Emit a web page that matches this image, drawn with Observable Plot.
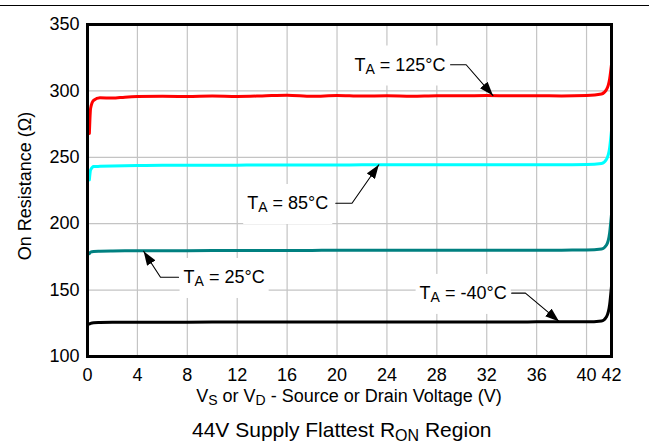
<!DOCTYPE html>
<html>
<head>
<meta charset="utf-8">
<script src="https://cdn.jsdelivr.net/npm/d3@7"></script>
<script src="https://cdn.jsdelivr.net/npm/@observablehq/plot@0.6"></script>
<style>
  html, body { margin: 0; padding: 0; background: #fff; }
  #chart { position: relative; width: 649px; height: 444px; font-family: "Liberation Sans", Arial, sans-serif; }
  #rule { position: absolute; left: 0; top: 5px; width: 649px; border-top: 1.5px solid #000; }
  #chart svg { position: absolute; left: 0; top: 0; }
</style>
</head>
<body>
<div id="chart"><div id="rule"></div></div>
<script>
// Source/drain voltage samples (V)
const voltage = [0.15, 0.25, 0.5, 1, 2, 3, 4, 6, 8, 10, 12, 14, 16, 18, 20, 22, 24, 26, 28, 30, 32, 34, 36, 38, 40, 41.2, 41.6, 41.85, 42];

// On resistance (Ω) at each temperature
const ron125 = [268, 287, 293, 294.8, 294.6, 295.3, 295.7, 295.9, 295.8, 296.1, 295.8, 296.2, 296.8, 295.9, 296.6, 296.1, 296.3, 296.0, 296.4, 296.3, 296.5, 296.3, 296.4, 296.2, 296.5, 297.6, 301, 309, 320];
const ron85  = [233, 240.5, 243.0, 243.2, 243.5, 243.7, 243.8, 244.0, 244.0, 244.1, 244.1, 244.2, 244.2, 244.2, 244.2, 244.3, 244.3, 244.3, 244.3, 244.3, 244.4, 244.4, 244.4, 244.4, 244.5, 245.3, 248.5, 257, 270];
const ron25  = [177.5, 178.6, 179.1, 179.3, 179.5, 179.6, 179.6, 179.7, 179.7, 179.8, 179.8, 179.9, 179.9, 179.9, 180.0, 180.0, 180.0, 180.0, 180.0, 180.0, 180.0, 180.1, 180.1, 180.1, 180.2, 181, 184, 193, 207];
const ronM40 = [124.5, 125, 125.5, 125.6, 125.7, 125.7, 125.8, 125.8, 125.8, 125.9, 125.9, 125.9, 125.9, 126.0, 126.0, 126.0, 126.0, 126.0, 126.0, 126.0, 126.0, 126.0, 126.1, 126.1, 126.1, 126.8, 130, 139, 153];

const seriesNames  = ["125", "85", "25", "-40"];
const seriesValues = [ron125, ron85, ron25, ronM40];
const seriesColors = ["#ff0000", "#00ffff", "#008080", "#000000"];

// Axis ticks
const xTicks = [0, 4, 8, 12, 16, 20, 24, 28, 32, 36, 40, 42];
const xGrid  = [4, 8, 12, 16, 20, 24, 28, 32, 36, 40];
const yTicks = [100, 150, 200, 250, 300, 350];
const yGrid  = [150, 200, 250, 300];

// Temperature callouts: label anchor and leader polyline ending at the curve
const annoLabels = ["TA = 125°C", "TA = 85°C", "TA = 25°C", "TA = -40°C"];
const annoX      = [28.7, 19.3, 7.7, 33.6];
const annoY      = [319.7, 215.4, 159.7, 147.7];
const annoAnchor = ["end", "end", "start", "end"];
const leaderX = [[29.1, 30.35, 32.5], [19.9, 21.2, 23.35], [7.3, 5.85, 4.5], [34.0, 35.1, 37.8]];
const leaderY = [[319.7, 319.7, 296.5], [215.4, 215.4, 244.4], [159.7, 159.7, 179.2], [147.7, 147.7, 126.4]];

// Tidy tables built from the arrays
const curves = seriesNames.flatMap((name, s) =>
  voltage.map((v, i) => ({series: name, v, r: seriesValues[s][i]})));
const leaders = leaderX.flatMap((xs, k) => xs.map((x, j) => ({id: k, x, y: leaderY[k][j]})));
const annos = annoLabels.map((t, k) => ({text: t, x: annoX[k], y: annoY[k], anchor: annoAnchor[k]}));

const annoText = anchor => Plot.text(annos.filter(d => d.anchor === anchor), {
  x: "x", y: "y", text: "text",
  textAnchor: anchor,
  fontSize: 18, fill: "#000",
  className: "anno"
});

const plot = Plot.plot({
  width: 649,
  height: 444,
  marginLeft: 87,
  marginRight: 38,
  marginTop: 24,
  marginBottom: 88,
  style: {fontFamily: "'Liberation Sans', Arial, sans-serif", fontSize: "18px", color: "#000", background: "transparent"},
  x: {domain: [0, 42]},
  y: {domain: [100, 350]},
  color: {domain: seriesNames, range: seriesColors},
  marks: [
    Plot.gridX(xGrid, {stroke: "#c4c4c4", strokeOpacity: 1, strokeWidth: 1.2}),
    Plot.gridY(yGrid, {stroke: "#c4c4c4", strokeOpacity: 1, strokeWidth: 1.2}),
    Plot.axisX(xTicks, {tickSize: 0, tickPadding: 12, fontSize: 18, label: null}),
    Plot.axisY(yTicks, {tickSize: 0, tickPadding: 8, fontSize: 18, label: null}),
    annoText("end"),
    annoText("start"),
    Plot.line(curves, {x: "v", y: "r", z: "series", stroke: "series", strokeWidth: 3, curve: "monotone-x"}),
    Plot.line(leaders, {x: "x", y: "y", z: "id", stroke: "#000", strokeWidth: 1.1, className: "leader"}),
    Plot.frame({stroke: "#000", strokeWidth: 3})
  ]
});

document.getElementById("chart").appendChild(plot);

const svg = d3.select(plot);
const NS = "http://www.w3.org/2000/svg";

// Filled arrowheads on the callout leaders
const defs = svg.insert("defs", ":first-child");
defs.append("marker")
  .attr("id", "tipHead")
  .attr("viewBox", "0 0 14 10")
  .attr("refX", 14).attr("refY", 5)
  .attr("markerUnits", "userSpaceOnUse")
  .attr("markerWidth", 14).attr("markerHeight", 10)
  .attr("orient", "auto")
  .append("path").attr("d", "M0,0L14,5L0,10Z").attr("fill", "#000");
svg.selectAll(".leader path").attr("marker-end", "url(#tipHead)");

// Write text as pieces, shifting subscripts below the baseline
function writeParts(el, parts, subSize, shift) {
  el.textContent = "";
  let down = false;
  for (const [str, sub] of parts) {
    const t = document.createElementNS(NS, "tspan");
    t.textContent = str;
    if (sub) {
      t.setAttribute("font-size", subSize);
      if (!down) { t.setAttribute("dy", shift); down = true; }
    } else if (down) {
      t.setAttribute("dy", -shift); down = false;
    }
    el.appendChild(t);
  }
}

// Callout labels: subscript A, with a white box behind each
svg.selectAll(".anno text").each(function() {
  const s = this.textContent;
  writeParts(this, [[s.slice(0, 1), false], [s.slice(1, 2), true], [s.slice(2), false]], 14, 3);
  const b = this.getBBox();
  const r = document.createElementNS(NS, "rect");
  const tf = this.getAttribute("transform");
  if (tf) r.setAttribute("transform", tf);
  r.setAttribute("x", b.x - 4);
  r.setAttribute("y", b.y - 9);
  r.setAttribute("width", b.width + 8);
  r.setAttribute("height", b.height + 18);
  r.setAttribute("fill", "#fff");
  this.parentNode.insertBefore(r, this);
});

// Axis titles and caption
svg.append("text")
  .attr("transform", "translate(31,186) rotate(-90)")
  .attr("text-anchor", "middle")
  .attr("font-size", 18).attr("fill", "#000")
  .text("On Resistance (Ω)");

const xTitle = svg.append("text")
  .attr("x", 349).attr("y", 402)
  .attr("text-anchor", "middle")
  .attr("font-size", 18).attr("fill", "#000");
writeParts(xTitle.node(), [["V", false], ["S", true], [" or V", false], ["D", true], [" - Source or Drain Voltage (V)", false]], 14, 3);

const caption = svg.append("text")
  .attr("x", 192).attr("y", 437)
  .attr("text-anchor", "start")
  .attr("font-size", 21).attr("fill", "#000");
writeParts(caption.node(), [["44V Supply Flattest R", false], ["ON", true], [" Region", false]], 16, 3.5);
</script>
</body>
</html>
